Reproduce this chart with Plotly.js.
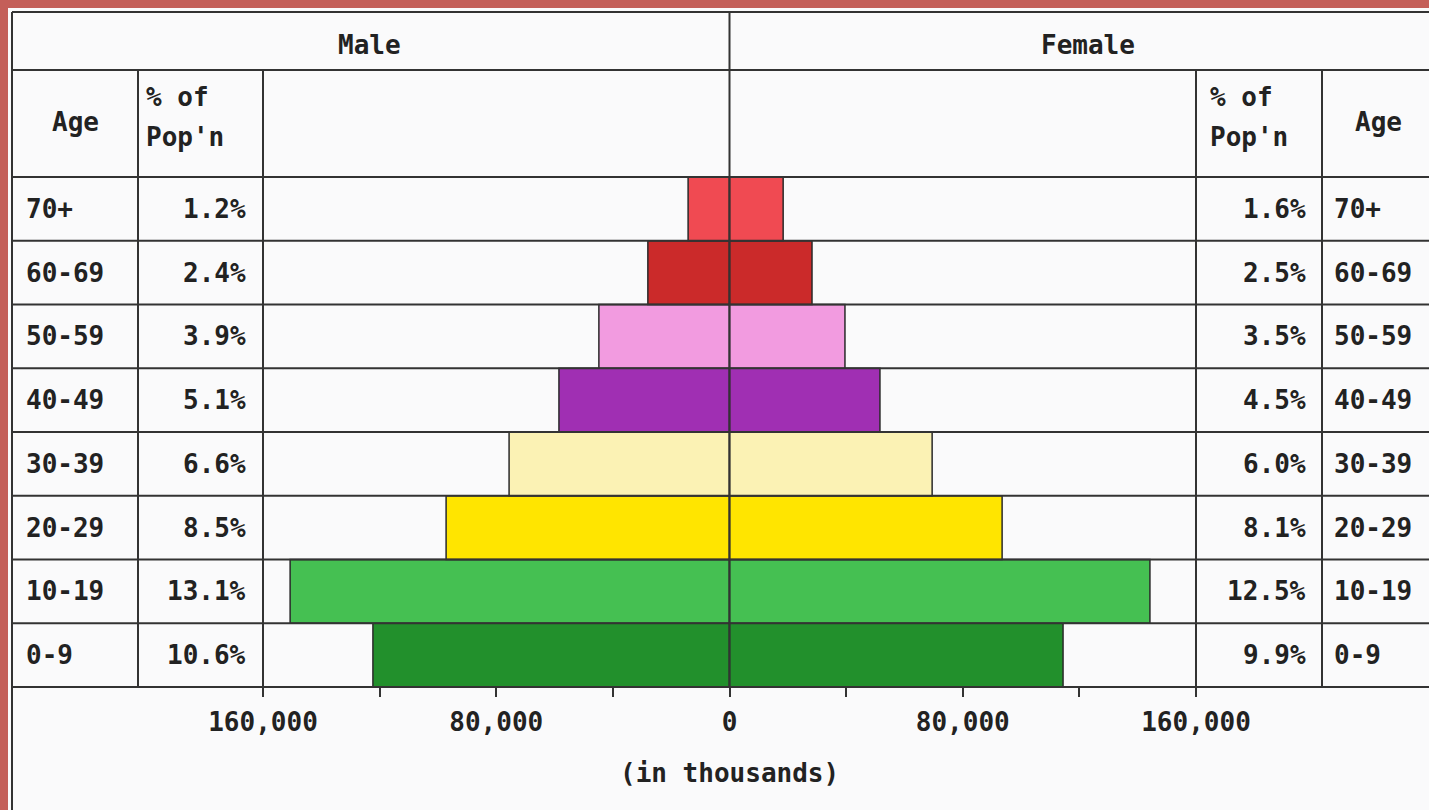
<!DOCTYPE html>
<html>
<head>
<meta charset="utf-8">
<script src="https://cdn.plot.ly/plotly-3.0.1.min.js"></script>
<style>html,body{margin:0;padding:0;background:#c45f59;}#chart{width:1429px;height:810px;}</style>
</head>
<body>
<div id="chart"></div>
<script>
// ---- data ----
const ages = ['0-9', '10-19', '20-29', '30-39', '40-49', '50-59', '60-69', '70+'];
const malePop = [122300, 150700, 97200, 75600, 58500, 44800, 28000, 14200];   // thousands
const femalePop = [114400, 144200, 93500, 69500, 51600, 39600, 28300, 18400]; // thousands
const malePct = ['10.6%', '13.1%', '8.5%', '6.6%', '5.1%', '3.9%', '2.4%', '1.2%'];
const femalePct = ['9.9%', '12.5%', '8.1%', '6.0%', '4.5%', '3.5%', '2.5%', '1.6%'];
const barColors = ['#22902c', '#45c052', '#ffe500', '#fbf2b4', '#a02fb3', '#f29be0', '#cb2a2a', '#f04a52'];
const tickVals = [-160000, -120000, -80000, -40000, 0, 40000, 80000, 120000, 160000];
const tickText = ['160,000', '', '80,000', '', '0', '', '80,000', '', '160,000'];

// ---- layout helpers ----
const W = 1429, H = 810;
const px = v => v / W;
const py = v => 1 - v / H;
const FONT = 'DejaVu Sans Mono, monospace';
const INK = '#222222';
const LINE = '#333333';
const FS = 26;

const traces = [
  {
    type: 'bar', orientation: 'h', y: ages, x: malePop.map(v => -v),
    marker: {color: barColors, line: {color: '#2a2a2a', width: 1.5}},
    hoverinfo: 'skip', showlegend: false
  },
  {
    type: 'bar', orientation: 'h', y: ages, x: femalePop,
    marker: {color: barColors, line: {color: '#2a2a2a', width: 1.5}},
    hoverinfo: 'skip', showlegend: false
  }
];

const shapes = [];
// white card
shapes.push({type: 'rect', xref: 'paper', yref: 'paper', x0: px(8), x1: 1.01, y0: -0.01, y1: py(8),
  fillcolor: '#fafafb', line: {width: 0}, layer: 'below'});
function hline(y, x0, x1, w) {
  shapes.push({type: 'line', xref: 'paper', yref: 'paper', x0: px(x0), x1: px(x1), y0: py(y), y1: py(y),
    line: {color: LINE, width: w || 2}, layer: 'above'});
}
function vline(x, y0, y1, w) {
  shapes.push({type: 'line', xref: 'paper', yref: 'paper', x0: px(x), x1: px(x), y0: py(y0), y1: py(y1),
    line: {color: LINE, width: w || 2}, layer: 'above'});
}
hline(12, 12, 1429, 2);
hline(70, 12, 1429, 2);
const rowTop = 177, rowBot = 687;
for (let i = 0; i <= ages.length; i++) {
  const y = rowTop + (rowBot - rowTop) * i / ages.length;
  hline(y, 12, 1429, 2);
}
vline(12, 12, 810, 2);
vline(138, 70, 687, 2);
vline(263, 70, 687, 2);
vline(729.5, 12, 687, 2);
vline(1196, 70, 687, 2);
vline(1322, 70, 687, 2);

const annotations = [];
function txt(text, x, y, anchor, size, yref) {
  annotations.push({text: text, x: x, y: y, xref: 'paper', yref: yref || 'paper',
    xanchor: anchor, yanchor: 'middle', showarrow: false,
    font: {family: FONT, size: size || FS, color: INK, weight: 'bold'}});
}
txt('Male', px(370), py(45), 'center');
txt('Female', px(1088), py(45), 'center');
txt('Age', px(75), py(122), 'center');
txt('% of', px(144), py(97), 'left');
txt("Pop'n", px(144), py(137), 'left');
txt('% of', px(1208), py(97), 'left');
txt("Pop'n", px(1208), py(137), 'left');
txt('Age', px(1378), py(122), 'center');
ages.forEach((a, i) => {
  txt(a, px(24), a, 'left', FS, 'y');
  txt(malePct[i], px(248), a, 'right', FS, 'y');
  txt(femalePct[i], px(1308), a, 'right', FS, 'y');
  txt(a, px(1332), a, 'left', FS, 'y');
});
txt('(in thousands)', px(729), py(773), 'center');

const layout = {
  width: W, height: H,
  margin: {l: 0, r: 0, t: 0, b: 0},
  paper_bgcolor: '#c45f59',
  plot_bgcolor: 'rgba(0,0,0,0)',
  barmode: 'relative', bargap: 0,
  showlegend: false,
  xaxis: {
    domain: [px(263), px(1196)], range: [-160000, 160000],
    showgrid: false, zeroline: false, showline: false,
    ticks: 'outside', ticklen: 9, tickwidth: 2, tickcolor: LINE,
    tickvals: tickVals, ticktext: tickText, ticklabelstandoff: 3,
    tickfont: {family: FONT, size: FS, color: INK, weight: 'bold'},
    fixedrange: true
  },
  yaxis: {
    domain: [py(rowBot), py(rowTop)], type: 'category', categoryorder: 'array', categoryarray: ages,
    range: [-0.5, ages.length - 0.5],
    showgrid: false, zeroline: false, showline: false, showticklabels: false, ticks: '',
    fixedrange: true
  },
  shapes: shapes,
  annotations: annotations,
  font: {family: FONT}
};

Plotly.newPlot('chart', traces, layout, {displayModeBar: false, staticPlot: true});
</script>
</body>
</html>
